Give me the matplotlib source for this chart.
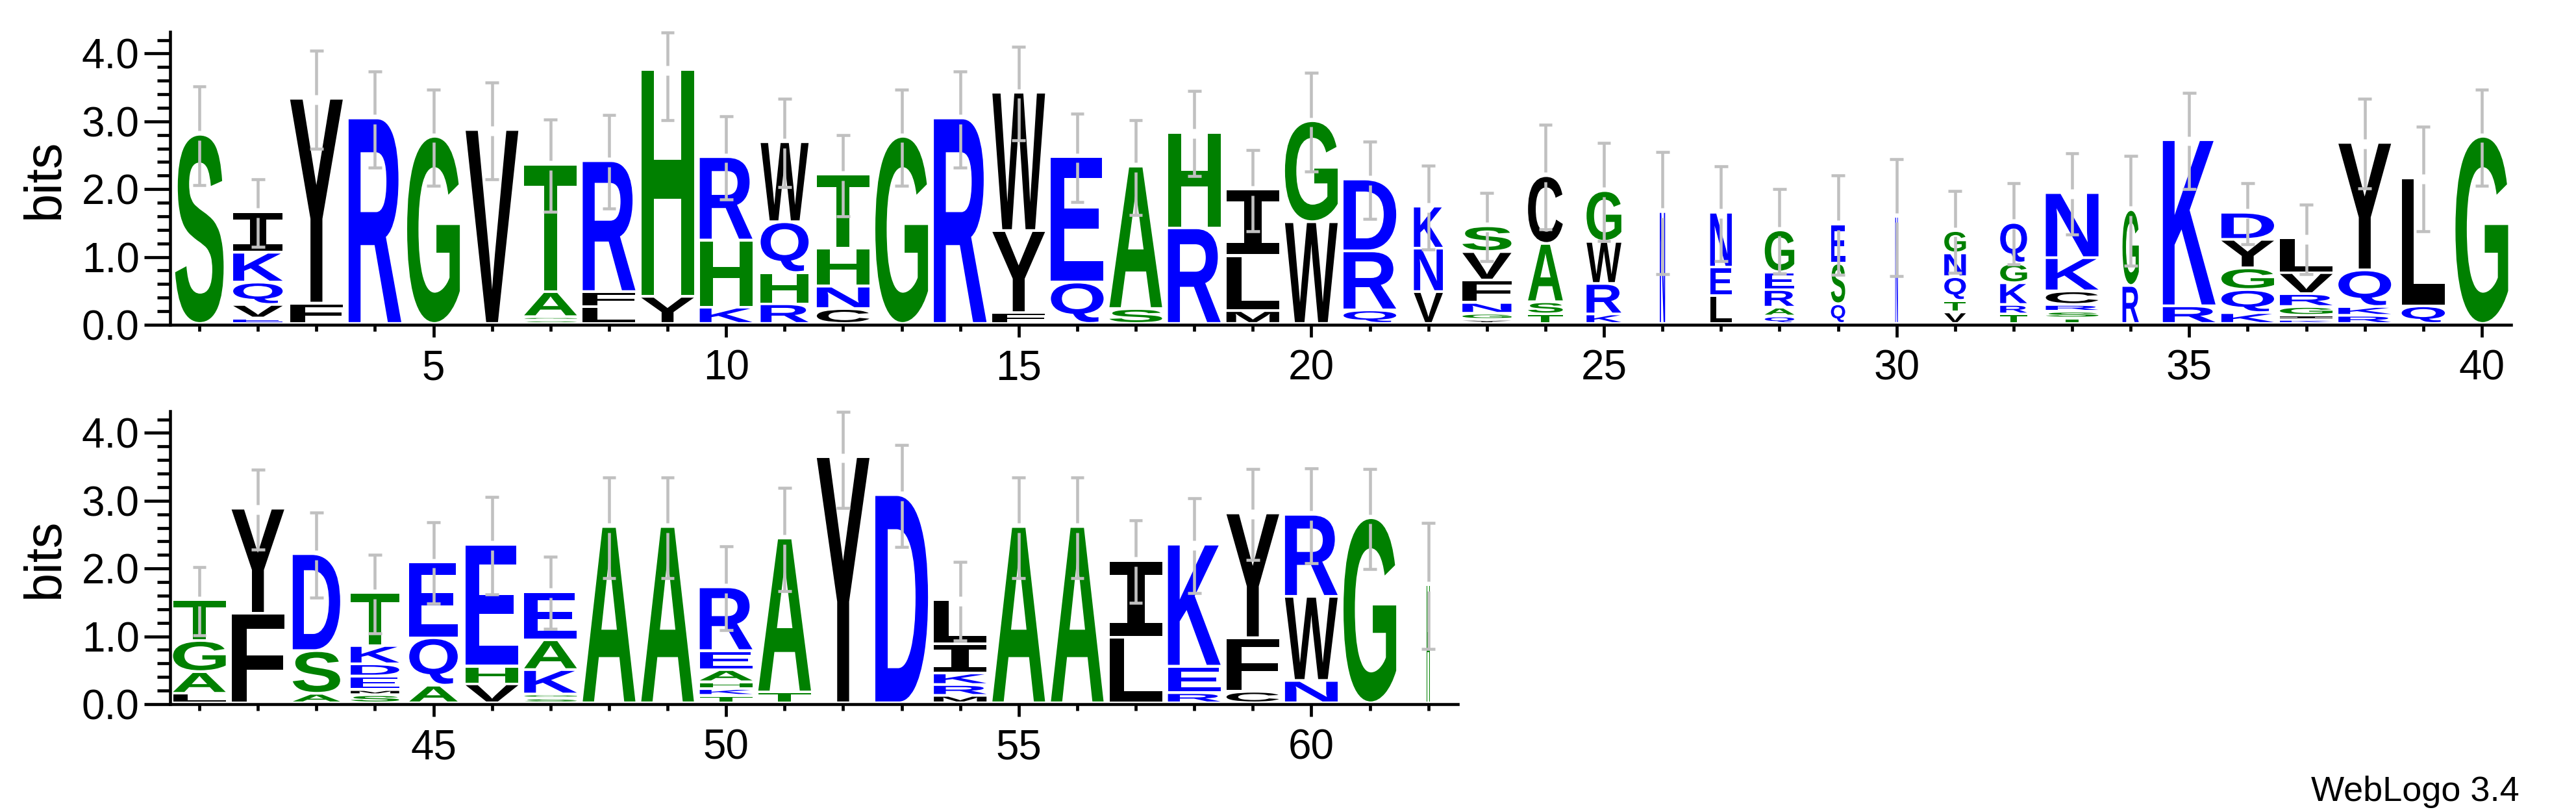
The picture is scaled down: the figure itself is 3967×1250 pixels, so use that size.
import matplotlib

matplotlib.use("Agg")

import matplotlib.pyplot as plt
from matplotlib.font_manager import FontProperties
from matplotlib.patches import PathPatch
from matplotlib.textpath import TextPath
from matplotlib.ticker import FormatStrFormatter, MultipleLocator
from matplotlib.transforms import Affine2D

plt.rcParams["font.family"] = ["Liberation Sans", "DejaVu Sans"]

# ---- data: one stack per position, letters listed bottom -> top ----
positions = list(range(1, 63))

stack_letters = [
    "S", "EVQKI", "FY", "R", "G", "V", "SGAT", "LFR", "YH", "KHR",
    "RHQW", "CNHT", "G", "R", "FYW", "QE", "SA", "RH", "MLI", "WG",
    "QRD", "VNK", "YGNFVS", "TSAC", "KRWG", "N", "LEN", "QAREG", "QSE", "N",
    "VTQNG", "TRKGQ", "TSRCKN", "RG", "RK", "KQGYD", "KIGRVL", "RKQY", "QL", "G",
    "LAGT", "FY", "ASD", "SMEDKT", "AQE", "VHE", "SGKAE", "A", "A", "TKHAER",
    "TA", "Y", "D", "MRKIL", "A", "A", "LI", "REK", "CFY", "NWR",
    "G", "H",
]

stack_heights = [
    [2.79], [0.08, 0.20, 0.33, 0.44, 0.60], [0.30, 3.02], [3.03], [2.76], [2.86],
    [0.05, 0.05, 0.37, 1.88], [0.25, 0.22, 1.93], [0.40, 3.35], [0.24, 0.99, 1.23],
    [0.29, 0.46, 0.75, 1.18], [0.22, 0.33, 0.56, 1.09], [2.76], [3.03],
    [0.16, 1.21, 2.04], [0.61, 1.85], [0.22, 2.10], [1.41, 1.41], [0.19, 0.81, 0.98],
    [1.50, 1.49], [0.20, 0.87, 1.06], [0.47, 0.64, 0.62],
    [0.06, 0.09, 0.16, 0.33, 0.42, 0.38], [0.14, 0.18, 0.86, 1.00],
    [0.14, 0.45, 0.62, 0.75], [1.65], [0.41, 0.42, 0.81], [0.11, 0.13, 0.26, 0.26, 0.62],
    [0.29, 0.60, 0.58], [1.58], [0.17, 0.17, 0.35, 0.35, 0.33],
    [0.14, 0.14, 0.32, 0.29, 0.60], [0.08, 0.10, 0.10, 0.20, 0.49, 0.96], [0.56, 1.12],
    [0.26, 2.45], [0.16, 0.34, 0.32, 0.42, 0.40], [0.06, 0.06, 0.13, 0.19, 0.31, 0.51],
    [0.12, 0.13, 0.54, 1.88], [0.26, 1.89], [2.76],
    [0.14, 0.32, 0.46, 0.60], [1.32, 1.55], [0.14, 0.63, 1.43],
    [0.12, 0.075, 0.20, 0.18, 0.27, 0.78], [0.26, 0.70, 1.12], [0.28, 0.26, 1.80],
    [0.07, 0.06, 0.36, 0.44, 0.71], [2.60], [2.60], [0.11, 0.10, 0.10, 0.18, 0.28, 0.94],
    [0.16, 2.27], [3.63], [3.07], [0.11, 0.16, 0.17, 0.43, 0.65], [2.60], [2.60],
    [0.97, 1.13], [0.15, 0.39, 1.80], [0.17, 0.79, 1.84], [0.33, 1.24, 1.21],
    [2.73], [1.74],
]

error_half = [
    0.73, 0.50, 0.72, 0.71, 0.71, 0.71, 0.68, 0.69, 0.73, 0.61,
    0.65, 0.60, 0.71, 0.71, 0.69, 0.65, 0.70, 0.63, 0.60, 0.73,
    0.57, 0.62, 0.50, 0.77, 0.72, 0.90, 0.70, 0.62, 0.73, 0.86,
    0.60, 0.60, 0.60, 0.81, 0.71, 0.45, 0.51, 0.66, 0.77, 0.71,
    0.50, 0.59, 0.63, 0.58, 0.60, 0.72, 0.53, 0.74, 0.74, 0.62,
    0.76, 0.74, 0.75, 0.58, 0.74, 0.74, 0.61, 0.70, 0.67, 0.70,
    0.74, 0.93,
]

# fraction of the full stack width (non-gap share of the column)
stack_width = [
    0.92, 0.94, 1, 1, 1, 1, 1, 1, 1, 1,
    0.91, 1, 1, 1, 1, 1, 1, 1, 1, 1,
    1, 0.55, 0.93, 0.66, 0.66, 0.10, 0.41, 0.56, 0.27, 0.05,
    0.41, 0.51, 1, 0.31, 1, 1, 1, 1, 0.82, 1,
    1, 1, 0.90, 0.92, 0.92, 1, 1, 1, 1, 1,
    1, 1, 1, 1, 1, 1, 1, 1, 1, 1,
    1, 0.06,
]

# WebLogo "hydrophobicity" colour scheme
COLORS = {}
COLORS.update({c: "#0000ff" for c in "RKDENQ"})
COLORS.update({c: "#008000" for c in "SGHTAP"})
COLORS.update({c: "#000000" for c in "YVMCLFIW"})

YMAX = 4.32
FULL_W = 0.9
GAP = 0.04
ERR_COLOR = "#c0c0c0"

GLYPH_FONT = FontProperties(family="Liberation Sans", weight="bold")
# the sans "I" is a bare bar; WebLogo's has crossbars
SERIF_I_FONT = FontProperties(family="DejaVu Sans Mono", weight="bold")
_glyphs = {}


def glyph(ch):
    if ch not in _glyphs:
        prop = SERIF_I_FONT if ch == "I" else GLYPH_FONT
        p = TextPath((0, 0), ch, size=1, prop=prop)
        _glyphs[ch] = (p, p.get_extents())
    return _glyphs[ch]


def draw_stack(ax, x, chars, hs, wfrac):
    y = 0.0
    w = FULL_W * wfrac
    for ch, h in zip(chars, hs):
        path, bb = glyph(ch)
        gh = max(h - GAP, h * 0.25)
        tr = (Affine2D().translate(-bb.x0, -bb.y0)
              .scale(w / bb.width, gh / bb.height)
              .translate(x - w / 2, y + h - gh))
        ax.add_patch(PathPatch(path, transform=tr + ax.transData,
                               facecolor=COLORS[ch], edgecolor="none", lw=0, zorder=2))
        y += h
    return y


def draw_err(ax, x, top, e):
    lo, hi = top - e, min(top + e, YMAX - 0.01)
    kw = dict(color=ERR_COLOR, lw=3.3, solid_capstyle="butt", clip_on=False, zorder=3)
    ax.plot([x, x], [lo, top - 0.07], **kw)
    ax.plot([x, x], [top + 0.07, hi], **kw)
    ax.plot([x - 0.115, x + 0.115], [lo, lo], **kw)
    ax.plot([x - 0.115, x + 0.115], [hi, hi], **kw)


fig = plt.figure(figsize=(39.67, 12.5), dpi=100)
ax_top = fig.add_axes([262 / 3967, 750 / 1250, 3605 / 3967, 451 / 1250])
ax_bot = fig.add_axes([262 / 3967, 166 / 1250, 1982.75 / 3967, 451 / 1250])

for ax, (first, last) in ((ax_top, (1, 40)), (ax_bot, (41, 62))):
    for pos in range(first, last + 1):
        i = pos - 1
        top = draw_stack(ax, pos, stack_letters[i], stack_heights[i], stack_width[i])
        draw_err(ax, pos, top, error_half[i])

    ax.set_xlim(first - 0.5, last + 0.5)
    ax.set_ylim(0, YMAX)
    ax.spines[["top", "right"]].set_visible(False)
    ax.spines[["left", "bottom"]].set_linewidth(3.3)
    ax.yaxis.set_major_locator(MultipleLocator(1))
    ax.yaxis.set_minor_locator(MultipleLocator(0.2))
    ax.yaxis.set_major_formatter(FormatStrFormatter("%.1f"))
    ax.xaxis.set_major_locator(MultipleLocator(5))
    ax.xaxis.set_minor_locator(MultipleLocator(1))
    ax.tick_params(axis="y", which="major", length=29, width=3.4, pad=5, labelsize=46)
    ax.tick_params(axis="y", which="minor", length=14.5, width=3.4)
    ax.tick_params(axis="x", which="major", length=14, width=3.4, pad=13, labelsize=46)
    ax.tick_params(axis="x", which="minor", length=7, width=3.4)

fig.text(69 / 3967, 975 / 1250, "bits", rotation=90, ha="center", va="center", fontsize=57)
fig.text(69 / 3967, 391 / 1250, "bits", rotation=90, ha="center", va="center", fontsize=57)
fig.text(3880 / 3967, 17 / 1250, "WebLogo 3.4", ha="right", va="baseline", fontsize=39)

fig.savefig("out.png", dpi=100)
